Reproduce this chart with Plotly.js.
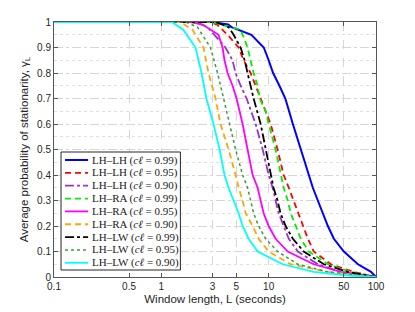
<!DOCTYPE html>
<html>
<head>
<meta charset="utf-8">
<script src="https://cdn.plot.ly/plotly-3.0.1.min.js"></script>
<style>html,body{margin:0;padding:0;background:#fff;}#chart{width:415px;height:312px;}</style>
</head>
<body>
<div id="chart"></div>
<script>
// Window length (seconds) and average probability of stationarity
const x_lhlh99 = [0.1, 3.0, 4.2, 4.5, 6.9, 9.0, 10.0, 11.0, 12.6, 14.3, 16.8, 19.9, 23.6, 25.8, 28.7, 32, 35.6, 40.5, 50.2, 67.9, 89.8, 100];
const y_lhlh99 = [1, 1, 0.99, 0.98, 0.95, 0.9, 0.85, 0.8, 0.75, 0.7, 0.6, 0.5, 0.4, 0.35, 0.3, 0.25, 0.2, 0.15, 0.1, 0.05, 0.02, 0];

const x_lhlh95 = [0.1, 2.8, 3.3, 4.14, 5.25, 5.84, 6.79, 7.56, 8.42, 10.44, 12.1, 13.8, 15.4, 17.1, 18.7, 20.8, 23.2, 26.3, 38, 62, 90, 100];
const y_lhlh95 = [1, 1, 0.99, 0.95, 0.9, 0.85, 0.8, 0.75, 0.7, 0.6, 0.5, 0.4, 0.35, 0.3, 0.25, 0.2, 0.15, 0.1, 0.05, 0.02, 0.005, 0];

const x_lhlh90 = [0.1, 2.1, 2.69, 3.96, 4.6, 4.92, 5.48, 6.23, 7.56, 8.79, 10.0, 10.9, 11.6, 12.4, 13.8, 15.4, 18.7, 28.7, 47, 80, 100];
const y_lhlh90 = [1, 1, 0.98, 0.9, 0.85, 0.8, 0.75, 0.7, 0.6, 0.5, 0.4, 0.35, 0.3, 0.25, 0.2, 0.15, 0.1, 0.05, 0.02, 0.005, 0];

const x_lhra99 = [0.1, 3.0, 3.56, 5.48, 6.36, 6.79, 7.24, 7.89, 8.24, 9.38, 10.0, 11.6, 12.9, 13.8, 15.05, 16.05, 17.9, 19.9, 23.65, 35.6, 58.4, 90, 100];
const y_lhra99 = [1, 1, 0.99, 0.97, 0.9, 0.85, 0.8, 0.75, 0.7, 0.65, 0.6, 0.5, 0.4, 0.35, 0.3, 0.25, 0.2, 0.15, 0.1, 0.05, 0.02, 0.005, 0];

const x_lhra95 = [0.1, 1.87, 2.42, 3.41, 3.72, 3.88, 4.14, 4.61, 5.02, 5.72, 6.36, 7.09, 7.89, 8.42, 8.98, 10.0, 11.6, 15.05, 26.3, 47, 80, 100];
const y_lhra95 = [1, 1, 0.99, 0.95, 0.9, 0.85, 0.8, 0.75, 0.7, 0.6, 0.5, 0.4, 0.35, 0.3, 0.25, 0.2, 0.15, 0.1, 0.05, 0.02, 0.005, 0];

const x_lhra90 = [0.1, 1.5, 1.95, 2.47, 2.75, 3.2, 3.56, 4.23, 4.92, 5.25, 5.72, 6.1, 7.09, 8.06, 10.0, 16.0, 35.6, 70, 100];
const y_lhra90 = [1, 1, 0.97, 0.9, 0.8, 0.7, 0.6, 0.5, 0.4, 0.35, 0.3, 0.25, 0.2, 0.15, 0.1, 0.05, 0.02, 0.005, 0];

const x_lhlw99 = [0.1, 3.2, 4.23, 4.71, 5.48, 5.97, 6.36, 6.79, 7.24, 8.42, 9.38, 10.44, 11.1, 12.1, 12.9, 14.4, 16.8, 21.2, 32.7, 54.7, 85, 100];
const y_lhlw99 = [1, 1, 0.98, 0.95, 0.9, 0.85, 0.8, 0.75, 0.7, 0.6, 0.5, 0.4, 0.35, 0.3, 0.25, 0.2, 0.15, 0.1, 0.05, 0.02, 0.005, 0];

const x_lhlw95 = [0.1, 1.68, 2.17, 2.87, 3.34, 3.8, 4.3, 4.92, 5.72, 6.36, 6.79, 7.24, 8.06, 9.38, 12.1, 18.7, 35.6, 70, 100];
const y_lhlw95 = [1, 1, 0.98, 0.9, 0.8, 0.7, 0.6, 0.5, 0.4, 0.35, 0.3, 0.25, 0.2, 0.15, 0.1, 0.05, 0.02, 0.005, 0];

const x_lhlw90 = [0.1, 1.25, 1.6, 1.72, 2.08, 2.37, 2.63, 3.06, 3.49, 3.88, 4.23, 4.71, 5.25, 5.72, 6.5, 7.9, 13.5, 26.3, 58, 100];
const y_lhlw90 = [1, 1, 0.97, 0.95, 0.9, 0.8, 0.7, 0.6, 0.5, 0.4, 0.35, 0.3, 0.25, 0.2, 0.15, 0.1, 0.05, 0.02, 0.005, 0];

const seriesNames = [
  'LH–LH (<i>cℓ</i> = 0.99)', 'LH–LH (<i>cℓ</i> = 0.95)', 'LH–LH (<i>cℓ</i> = 0.90)',
  'LH–RA (<i>cℓ</i> = 0.99)', 'LH–RA (<i>cℓ</i> = 0.95)', 'LH–RA (<i>cℓ</i> = 0.90)',
  'LH–LW (<i>cℓ</i> = 0.99)', 'LH–LW (<i>cℓ</i> = 0.95)', 'LH–LW (<i>cℓ</i> = 0.90)'
];
const xTickVals = [0.1, 0.5, 1, 3, 5, 10, 50, 100];
const xTickText = ['0.1', '0.5', '1', '3', '5', '10', '50', '100'];
const yTickVals = [0, 0.1, 0.2, 0.3, 0.4, 0.5, 0.6, 0.7, 0.8, 0.9, 1];
const yTickText = ['0', '0.1', '0.2', '0.3', '0.4', '0.5', '0.6', '0.7', '0.8', '0.9', '1'];

const xs = [x_lhlh99, x_lhlh95, x_lhlh90, x_lhra99, x_lhra95, x_lhra90, x_lhlw99, x_lhlw95, x_lhlw90];
const ys = [y_lhlh99, y_lhlh95, y_lhlh90, y_lhra99, y_lhra95, y_lhra90, y_lhlw99, y_lhlw95, y_lhlw90];
const styles = [
  {color: '#0000ff', dash: 'solid', width: 2},
  {color: '#ff0000', dash: '6px,4px', width: 1.8},
  {color: '#9932cc', dash: 'dashdot', width: 1.8},
  {color: '#00ee00', dash: '6px,4px', width: 1.8},
  {color: '#ff00ff', dash: 'solid', width: 1.8},
  {color: '#ffa500', dash: '6px,4px', width: 1.8},
  {color: '#000000', dash: 'dashdot', width: 1.8},
  {color: '#3c9a3c', dash: 'dot', width: 1.5},
  {color: '#00ffff', dash: 'solid', width: 1.8}
];

const traces = xs.map((x, i) => ({
  x: x, y: ys[i], type: 'scatter', mode: 'lines', name: seriesNames[i],
  line: {color: styles[i].color, dash: styles[i].dash, width: styles[i].width}
}));

// Custom compact legend (MATLAB-style), built from the series names and styles
const plotW = 321, plotH = 255;           // plot area size in px
const lgLeft = 7, lgRight = 126, lgTop = 130, lgBottom = 248; // px from plot top-left
const firstRow = 138, rowStep = 12.85;
const px2x = p => p / plotW;
const px2y = p => 1 - p / plotH;
const shapes = [{
  type: 'rect', xref: 'paper', yref: 'paper',
  x0: px2x(lgLeft), x1: px2x(lgRight), y0: px2y(lgBottom), y1: px2y(lgTop),
  fillcolor: '#ffffff', line: {color: '#262626', width: 1}, layer: 'above'
}];
const annotations = [];
seriesNames.forEach((n, i) => {
  const yy = px2y(firstRow + rowStep * i);
  shapes.push({
    type: 'line', xref: 'paper', yref: 'paper',
    x0: px2x(11), x1: px2x(34), y0: yy, y1: yy,
    line: {color: styles[i].color, dash: styles[i].dash, width: styles[i].width}, layer: 'above'
  });
  annotations.push({
    xref: 'paper', yref: 'paper', x: px2x(36), y: yy,
    xanchor: 'left', yanchor: 'middle', showarrow: false, text: n,
    font: {family: 'Liberation Serif, DejaVu Serif, serif', size: 11, color: '#1a1a1a'}
  });
});

const layout = {
  width: 415, height: 312,
  margin: {l: 54, r: 39, t: 22, b: 35},
  paper_bgcolor: '#fff', plot_bgcolor: '#fff',
  showlegend: false,
  font: {family: 'Liberation Sans, Arial, sans-serif', size: 10, color: '#262626'},
  xaxis: {
    type: 'log', range: [-1, 2],
    tickvals: xTickVals, ticktext: xTickText,
    ticks: 'inside', ticklen: 4, tickcolor: '#555', mirror: 'ticks',
    showline: true, linecolor: '#555', linewidth: 1,
    showgrid: true, gridcolor: '#d6d6d6', griddash: 'dash', gridwidth: 1,
    zeroline: false,
    tickfont: {size: 10, color: '#262626'},
    title: {text: 'Window length, L (seconds)', font: {size: 11.5, color: '#262626'}, standoff: 3}
  },
  yaxis: {
    range: [0, 1],
    tickvals: yTickVals, ticktext: yTickText,
    ticks: 'inside', ticklen: 4, tickcolor: '#555', mirror: 'ticks',
    showline: true, linecolor: '#555', linewidth: 1,
    showgrid: true, gridcolor: '#d6d6d6', griddash: 'dashdot', gridwidth: 1,
    minor: {dtick: 0.05, showgrid: true, gridcolor: '#e0e0e0', griddash: 'dot', ticks: ''},
    zeroline: false,
    tickfont: {size: 10, color: '#262626'},
    title: {text: 'Average probability of stationarity, γ<sub>L</sub>', font: {size: 11.5, color: '#262626'}, standoff: 6}
  },
  shapes: shapes,
  annotations: annotations
};

Plotly.newPlot('chart', traces, layout, {displayModeBar: false, staticPlot: true});
</script>
</body>
</html>
